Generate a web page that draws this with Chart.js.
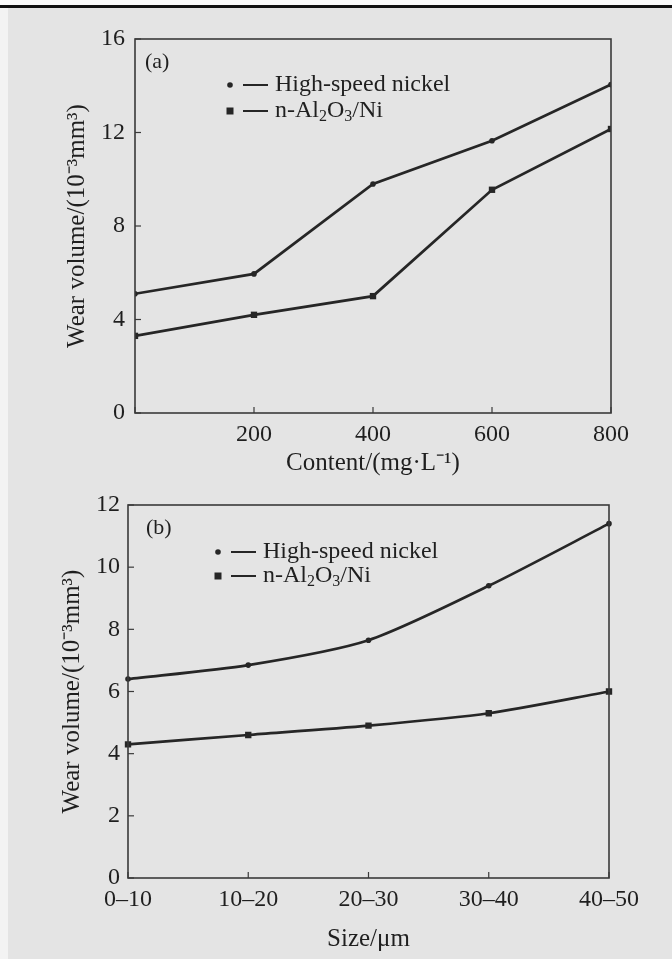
<!DOCTYPE html>
<html>
<head>
<meta charset="utf-8">
<script src="https://cdn.jsdelivr.net/npm/chart.js@4.4.1/dist/chart.umd.min.js"></script>
<style>
html,body{margin:0;padding:0;background:#fff;}
#page{position:relative;width:672px;height:959px;background:#e4e4e4;overflow:hidden;}
#topwhite{position:absolute;left:0;top:0;width:672px;height:5px;background:#fafafa;}
#topline{position:absolute;left:0;top:5px;width:672px;height:3px;background:#111;}
#leftwhite{position:absolute;left:0;top:8px;width:8px;height:951px;background:#f3f3f3;}
canvas{position:absolute;left:0;}
#chartA{top:0;}
#chartB{top:480px;}
</style>
</head>
<body>
<div id="page">
  <div id="topwhite"></div>
  <div id="topline"></div>
  <div id="leftwhite"></div>
  <canvas id="chartA" width="672" height="480"></canvas>
  <canvas id="chartB" width="672" height="479"></canvas>
</div>
<script>
// (a) wear volume vs content
var contentX = [0, 200, 400, 600, 800];
var nickelA = [5.1, 5.95, 9.8, 11.65, 14.05];
var alnA = [3.3, 4.2, 5.0, 9.55, 12.15];

// (b) wear volume vs particle size
var sizeLabels = ['0\u201310', '10\u201320', '20\u201330', '30\u201340', '40\u201350'];
var nickelB = [6.4, 6.85, 7.65, 9.4, 11.4];
var alnB = [4.3, 4.6, 4.9, 5.3, 6.0];

var seriesNames = ['High-speed nickel', 'n-Al\u2082O\u2083/Ni'];
var ink = '#1f1f1f';
var lineInk = '#262626';
var serif = "'Liberation Serif', 'Times New Roman', serif";

function pts(xs, ys){
  var out = [];
  for(var i=0;i<xs.length;i++) out.push({x:xs[i], y:ys[i]});
  return out;
}

// draws the box, inward ticks, panel tag and the legend
var framePlugin = {
  id:'frame',
  afterDraw:function(chart){
    var o = chart.options.plugins.frame;
    var a = chart.chartArea, c = chart.ctx;
    c.save();
    c.strokeStyle = '#3a3a3a';
    c.lineWidth = 1.6;
    c.strokeRect(a.left, a.top, a.right-a.left, a.bottom-a.top);
    // inward ticks
    c.lineWidth = 1.2;
    var xs = chart.scales.x, ys = chart.scales.y;
    xs.ticks.forEach(function(t, i){
      var px = xs.getPixelForTick(i);
      c.beginPath(); c.moveTo(px, a.bottom); c.lineTo(px, a.bottom-6); c.stroke();
    });
    ys.ticks.forEach(function(t, i){
      var py = ys.getPixelForTick(i);
      c.beginPath(); c.moveTo(a.left, py); c.lineTo(a.left+6, py); c.stroke();
    });
    // panel tag
    c.fillStyle = ink;
    c.font = '22px ' + serif;
    c.textBaseline = 'middle';
    c.fillText(o.tag, a.left+o.tagX, a.top+23);
    // legend
    chart.data.datasets.forEach(function(ds, i){
      var y = a.top + o.legY + i*o.legGap;
      var mx = a.left + o.legX;
      c.fillStyle = lineInk;
      if(ds.pointStyle === 'rect'){
        c.fillRect(mx-3.5, y-3.5, 7, 7);
      } else {
        c.beginPath(); c.arc(mx, y, 2.8, 0, Math.PI*2); c.fill();
      }
      c.strokeStyle = lineInk;
      c.lineWidth = 2;
      c.beginPath(); c.moveTo(mx+13, y); c.lineTo(mx+38, y); c.stroke();
      var tx = mx + 45;
      c.fillStyle = ink;
      c.font = '24px ' + serif;
      if(i === 0){
        c.fillText(ds.label, tx, y);
      } else {
        // n-Al2O3/Ni with real subscripts
        var parts = [['n-Al',0],['2',1],['O',0],['3',1],['/Ni',0]];
        parts.forEach(function(p){
          if(p[1]){
            c.font = '16px ' + serif;
            c.fillText(p[0], tx, y+6);
          } else {
            c.font = '24px ' + serif;
            c.fillText(p[0], tx, y);
          }
          tx += c.measureText(p[0]).width;
        });
      }
    });
    c.restore();
  }
};

function baseDatasets(d1, d2, tension){
  return [
    {label:seriesNames[0], data:d1, borderColor:lineInk, backgroundColor:lineInk, borderWidth:2.7,
     pointStyle:'circle', pointRadius:2.8, pointBorderWidth:0, tension:tension},
    {label:seriesNames[1], data:d2, borderColor:lineInk, backgroundColor:lineInk, borderWidth:2.7,
     pointStyle:'rect', pointRadius:4.5, pointBorderWidth:0, tension:tension}
  ];
}

var tickFont = {family:serif, size:24};
var titleFont = {family:serif, size:25};

new Chart(document.getElementById('chartA'), {
  type:'line',
  data:{datasets:baseDatasets(pts(contentX, nickelA), pts(contentX, alnA), 0)},
  options:{
    responsive:false, animation:false,
    layout:{padding:{top:39, right:61, left:0, bottom:0}},
    plugins:{
      legend:{display:false}, tooltip:{enabled:false},
      frame:{tag:'(a)', tagX:10, legX:95, legY:46, legGap:26}
    },
    scales:{
      x:{type:'linear', min:0, max:800,
         afterFit:function(s){ s.height = 67; },
         grid:{drawOnChartArea:false, drawTicks:false},
         border:{display:false},
         ticks:{stepSize:200, padding:7, color:ink, font:tickFont, maxRotation:0,
                callback:function(v){ return v === 0 ? '' : v; }},
         title:{display:true, text:'Content/(mg\u00b7L\u207b\u00b9)', color:ink, font:titleFont,
                padding:{top:0, bottom:2}}},
      y:{min:0, max:16,
         afterFit:function(s){ s.width = 135; },
         grid:{drawOnChartArea:false, drawTicks:false},
         border:{display:false},
         ticks:{stepSize:4, padding:10, color:ink, font:tickFont},
         title:{display:true, text:'Wear volume/(10\u207b\u00b3mm\u00b3)', color:ink, font:titleFont,
                padding:{top:62, bottom:0}}}
    }
  },
  plugins:[framePlugin]
});

new Chart(document.getElementById('chartB'), {
  type:'line',
  data:{labels:sizeLabels, datasets:baseDatasets(nickelB, alnB, 0.25)},
  options:{
    responsive:false, animation:false,
    layout:{padding:{top:25, right:63, left:0, bottom:0}},
    plugins:{
      legend:{display:false}, tooltip:{enabled:false},
      frame:{tag:'(b)', tagX:18, legX:90, legY:47, legGap:24}
    },
    scales:{
      x:{type:'category', offset:false,
         afterFit:function(s){ s.height = 81; },
         grid:{drawOnChartArea:false, drawTicks:false, offset:false},
         border:{display:false},
         ticks:{padding:7, color:ink, font:tickFont, maxRotation:0},
         title:{display:true, text:'Size/\u03bcm', color:ink, font:titleFont,
                padding:{top:0, bottom:5}}},
      y:{min:0, max:12,
         afterFit:function(s){ s.width = 128; },
         grid:{drawOnChartArea:false, drawTicks:false},
         border:{display:false},
         ticks:{stepSize:2, padding:8, color:ink, font:tickFont},
         title:{display:true, text:'Wear volume/(10\u207b\u00b3mm\u00b3)', color:ink, font:titleFont,
                padding:{top:57, bottom:0}}}
    }
  },
  plugins:[framePlugin]
});
</script>
</body>
</html>
